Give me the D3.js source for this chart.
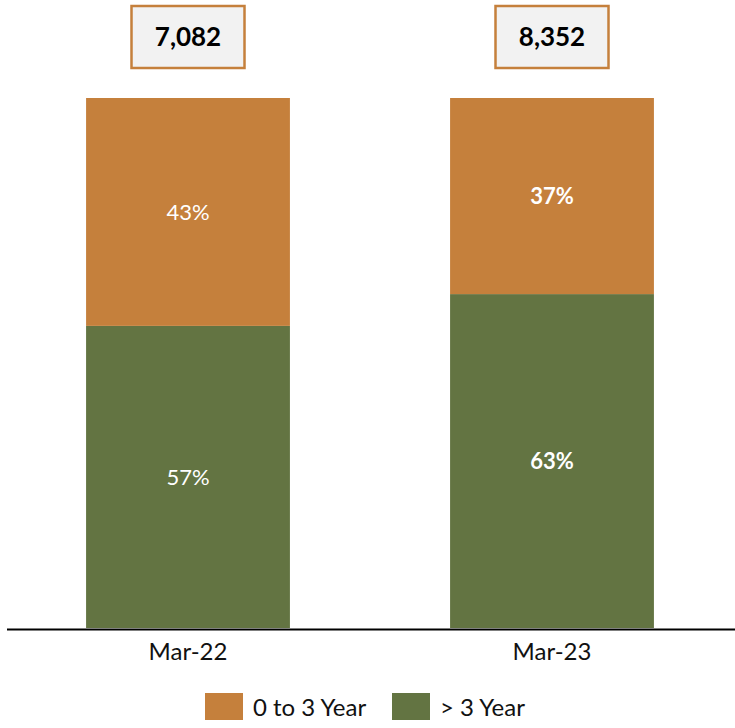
<!DOCTYPE html>
<html>
<head>
<meta charset="utf-8">
<script src="https://cdn.jsdelivr.net/npm/d3@7"></script>
<style>
  html, body { margin: 0; padding: 0; background: #ffffff; }
  svg { display: block; font-family: Lato, "Open Sans", sans-serif; }
</style>
</head>
<body>
<svg id="chart" width="735" height="728"></svg>
<script>
// Periods and total headcount per period
const periods = ["Mar-22", "Mar-23"];
const totals = [7082, 8352];

// Share of each tenure band (percent), stacked bottom to top
const seriesNames = ["> 3 Year", "0 to 3 Year"];
const overThree = [57, 63];
const upToThree = [43, 37];
const boldLabels = [false, true];

const colors = { "> 3 Year": "#637442", "0 to 3 Year": "#C5803C" };
const legendOrder = ["0 to 3 Year", "> 3 Year"];

const svg = d3.select("#chart");

const x = d3.scaleBand().domain(periods).range([6, 734]).paddingInner(0.44).paddingOuter(0.22);
const y = d3.scaleLinear().domain([0, 100]).range([628, 98]);

const rows = periods.map((p, i) => ({ period: p, "> 3 Year": overThree[i], "0 to 3 Year": upToThree[i], bold: boldLabels[i], total: totals[i] }));
const stacked = d3.stack().keys(seriesNames)(rows);

// Stacked bars
const layers = svg.append("g").selectAll("g").data(stacked).join("g")
  .attr("fill", d => colors[d.key]);

layers.selectAll("rect").data(d => d).join("rect")
  .attr("x", d => x(d.data.period))
  .attr("width", x.bandwidth())
  .attr("y", d => y(d[1]))
  .attr("height", d => y(d[0]) - y(d[1]));

// Percent labels inside segments
layers.selectAll("text").data(d => d.map(s => ({ s, key: d.key }))).join("text")
  .attr("x", d => x(d.s.data.period) + x.bandwidth() / 2)
  .attr("y", d => (y(d.s[0]) + y(d.s[1])) / 2)
  .attr("dy", "0.35em")
  .attr("text-anchor", "middle")
  .attr("fill", "#ffffff")
  .attr("font-size", 22)
  .attr("font-weight", d => d.s.data.bold ? "bold" : "normal")
  .text(d => d.s.data[d.key] + "%");

// Baseline axis
const xAxis = d3.axisBottom(x).tickSize(0).tickPadding(14);
const axisG = svg.append("g").attr("transform", "translate(0,629)").call(xAxis);
axisG.select(".domain").attr("d", "M7,0.5H735").attr("stroke", "#000").attr("stroke-width", 2);
axisG.selectAll(".tick text")
  .attr("font-size", 24)
  .attr("fill", "#111")
  .attr("font-family", "Lato, 'Open Sans', sans-serif");

// Total boxes above bars
const fmt = d3.format(",");
const boxW = 113, boxH = 62;
const boxes = svg.append("g").selectAll("g").data(rows).join("g")
  .attr("transform", d => `translate(${x(d.period) + x.bandwidth() / 2},37)`);
boxes.append("rect")
  .attr("x", -boxW / 2).attr("y", -boxH / 2)
  .attr("width", boxW).attr("height", boxH)
  .attr("fill", "#f2f2f2")
  .attr("stroke", "#C5803C")
  .attr("stroke-width", 2.5);
boxes.append("text")
  .attr("text-anchor", "middle")
  .attr("dy", "0.36em")
  .attr("font-size", 26)
  .attr("font-weight", "bold")
  .attr("fill", "#000")
  .text(d => fmt(d.total));

// Legend
const legend = svg.append("g").attr("transform", "translate(0,693)");
const legendX = [205, 392];
legendOrder.forEach((name, i) => {
  const g = legend.append("g").attr("transform", `translate(${legendX[i]},0)`);
  g.append("rect").attr("width", 38).attr("height", 27).attr("fill", colors[name]);
  g.append("text").attr("x", 48).attr("y", 14).attr("dy", "0.36em")
    .attr("font-size", 24).attr("fill", "#111").text(name);
});
</script>
</body>
</html>
